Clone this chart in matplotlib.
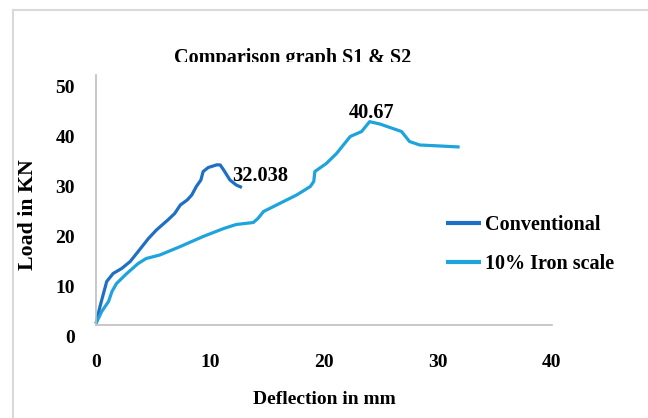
import matplotlib
matplotlib.use('Agg')
import matplotlib.pyplot as plt
import matplotlib.transforms as mtransforms

# ---- data ----
conv_x = [0.0, 0.35, 0.94, 1.5, 2.25, 3.0, 3.7, 4.6, 5.3, 6.3, 6.9, 7.4, 8.0, 8.4,
          8.8, 9.2, 9.4, 9.85, 10.6, 10.9, 11.2, 11.75, 12.3, 12.8]
conv_y = [0.3, 3.7, 8.7, 10.3, 11.3, 12.7, 14.7, 17.3, 19.0, 21.0, 22.3, 24.0, 25.0, 26.0,
          27.7, 29.0, 30.7, 31.5, 32.038, 32.0, 31.0, 29.0, 28.0, 27.5]

iron_x = [0.0, 0.5, 1.1, 1.4, 1.8, 2.7, 3.7, 4.4, 5.6, 7.4, 9.4, 11.2, 12.3, 13.8, 14.2,
          14.7, 16.1, 17.6, 18.8, 19.1, 19.2, 20.2, 21.1, 22.3, 23.3, 24.0, 24.9, 26.8,
          27.5, 28.4, 30.2, 31.9]
iron_y = [0.3, 2.7, 4.7, 6.7, 8.3, 10.3, 12.3, 13.3, 14.0, 15.7, 17.7, 19.3, 20.1, 20.5, 21.3,
          22.7, 24.3, 26.0, 27.7, 28.7, 30.7, 32.3, 34.3, 37.7, 38.7, 40.67, 40.2, 38.7,
          36.7, 36.0, 35.8, 35.6]

series_names = ['Conventional', '10% Iron scale']
peak_labels = ['32.038', '40.67']
x_ticks = [0, 10, 20, 30, 40]
y_ticks = [0, 10, 20, 30, 40, 50]

C_CONV = '#1F6FC4'
C_IRON = '#1EA3DC'
GRID = '#BFBFBF'
FONT = 'Liberation Serif'

plt.rcParams['font.family'] = FONT
plt.rcParams['font.weight'] = 'bold'

fig = plt.figure(figsize=(6.48, 4.18), dpi=100)
W, H = 648, 418

# light chart frame (top and left edges visible)
fig.add_artist(plt.Line2D([13 / W, 1], [1 - 10 / H, 1 - 10 / H], color='#D9D9D9', lw=1.5,
                          transform=fig.transFigure))
fig.add_artist(plt.Line2D([13 / W, 13 / W], [0, 1 - 10 / H], color='#D9D9D9', lw=1.5,
                          transform=fig.transFigure))

ax = fig.add_axes([96 / W, 1 - 325 / H, (552 - 96) / W, (325 - 75) / H])

ax.plot(conv_x, conv_y, color=C_CONV, lw=2.3, solid_capstyle='butt', solid_joinstyle='round',
        label=series_names[0], clip_on=False)
ax.plot(iron_x, iron_y, color=C_IRON, lw=2.3, solid_capstyle='butt', solid_joinstyle='round',
        label=series_names[1], clip_on=False)

ax.set_xlim(0, 40)
ax.set_ylim(0, 50)
ax.set_xticks(x_ticks)
ax.set_yticks(y_ticks)
ax.tick_params(length=0, labelsize=14)
ax.tick_params(axis='y', pad=15)
ax.tick_params(axis='x', pad=21)
for s in ['top', 'right']:
    ax.spines[s].set_visible(False)
for s in ['left', 'bottom']:
    ax.spines[s].set_color(GRID)
    ax.spines[s].set_linewidth(1.2)

# y tick labels sit a little below their gridline in the reference
off = mtransforms.ScaledTranslation(0, -8 / 72, fig.dpi_scale_trans)
for lab in ax.get_yticklabels():
    lab.set_transform(lab.get_transform() + off)

ax.set_xlabel('Deflection in mm', fontsize=14, fontweight='bold', labelpad=14)
fig.text(28 / W, 1 - 215 / H, 'Load in KN', rotation=90, fontsize=15.7, fontweight='bold',
         ha='center', va='center')

# data labels at the peaks
ax.text(conv_x[conv_y.index(max(conv_y))] + 1.3, max(conv_y) - 2.3, peak_labels[0],
        fontsize=14.7, fontweight='bold', ha='left', va='center')
ax.text(iron_x[iron_y.index(max(iron_y))] + 0.2, max(iron_y) + 1.7, peak_labels[1],
        fontsize=14.7, fontweight='bold', ha='center', va='center')

# title, cut off at its baseline like the reference
t = fig.text(293 / W, 1 - 62.5 / H, 'Comparison graph S1 & S2', fontsize=14.5,
             fontweight='bold', ha='center', va='baseline')
t.set_clip_box(mtransforms.Bbox.from_extents(0, H - 62, W, H))
t.set_clip_on(True)

leg = ax.legend(loc='upper left', bbox_to_anchor=(446 / W, 1 - 215 / H),
                bbox_transform=fig.transFigure, frameon=False, fontsize=14.5,
                handlelength=1.75, handletextpad=0.2, labelspacing=0.95, borderpad=0,
                borderaxespad=0)
for line in leg.get_lines():
    line.set_linewidth(3)

fig.savefig('out.png', dpi=100)
